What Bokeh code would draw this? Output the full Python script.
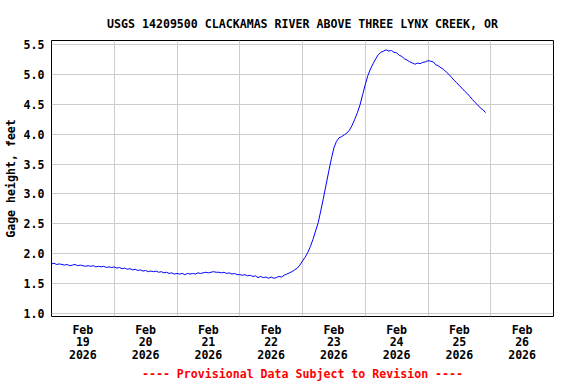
from bokeh.plotting import figure
from bokeh.models import Range1d, FixedTicker
from bokeh.embed import file_html
from bokeh.resources import INLINE

# hours since Feb 19 2026 00:00
hours = list(range(0, 167))
gage_height = [
    1.83, 1.84, 1.82, 1.83, 1.82, 1.81, 1.82, 1.80, 1.81, 1.82, 1.80, 1.81,
    1.80, 1.79, 1.80, 1.79, 1.80, 1.78, 1.79, 1.78, 1.79, 1.77, 1.78, 1.77,
    1.78, 1.76, 1.77, 1.75, 1.76, 1.74, 1.75, 1.73, 1.74, 1.72, 1.73, 1.71,
    1.72, 1.70, 1.71, 1.70, 1.71, 1.69, 1.70, 1.68, 1.69, 1.67, 1.68, 1.66,
    1.67, 1.66, 1.67, 1.65, 1.67, 1.66, 1.67, 1.66, 1.68, 1.67, 1.68, 1.69,
    1.68, 1.69, 1.70, 1.69, 1.69, 1.68, 1.69, 1.67, 1.68, 1.66, 1.67, 1.65,
    1.65, 1.64, 1.65, 1.63, 1.64, 1.62, 1.63, 1.60, 1.62, 1.60, 1.61, 1.59,
    1.61, 1.59, 1.60, 1.62, 1.61, 1.64, 1.66, 1.68, 1.70, 1.73, 1.76, 1.81,
    1.88, 1.94, 2.02, 2.12, 2.24, 2.38, 2.52, 2.72, 2.93, 3.15, 3.37, 3.58,
    3.77, 3.88, 3.94, 3.96, 3.99, 4.02, 4.07, 4.15, 4.25, 4.36, 4.49, 4.66,
    4.83, 4.98, 5.09, 5.18, 5.26, 5.33, 5.37, 5.39, 5.41, 5.39, 5.40, 5.37,
    5.36, 5.32, 5.30, 5.26, 5.24, 5.21, 5.19, 5.17, 5.19, 5.18, 5.20, 5.21,
    5.23, 5.22, 5.21, 5.16, 5.14, 5.11, 5.08, 5.04, 5.00, 4.95, 4.90, 4.86,
    4.81, 4.77, 4.72, 4.68, 4.63, 4.58, 4.53, 4.49, 4.44, 4.41, 4.36,
]

label_hours = [12, 36, 60, 84, 108, 132, 156, 180]
day_labels = ["Feb\n19\n2026", "Feb\n20\n2026", "Feb\n21\n2026", "Feb\n22\n2026",
              "Feb\n23\n2026", "Feb\n24\n2026", "Feb\n25\n2026", "Feb\n26\n2026"]
grid_hours = [24, 48, 72, 96, 120, 144, 168]
y_ticks = [1.0, 1.5, 2.0, 2.5, 3.0, 3.5, 4.0, 4.5, 5.0, 5.5]
y_labels = ["1.0", "1.5", "2.0", "2.5", "3.0", "3.5", "4.0", "4.5", "5.0", "5.5"]

TITLE = "USGS 14209500 CLACKAMAS RIVER ABOVE THREE LYNX CREEK, OR"
FOOTER = "---- Provisional Data Subject to Revision ----"
Y_LABEL = "Gage height, feet"

FONT = "DejaVu Sans Mono"
FS = "11.6px"

p = figure(width=576, height=384, output_backend="svg", toolbar_location=None,
           x_range=Range1d(0, 192), y_range=Range1d(0.95, 5.567),
           min_border_left=51, min_border_right=23, min_border_top=40,
           min_border_bottom=68)

p.background_fill_color = "white"
p.border_fill_color = "white"
p.outline_line_color = "black"
p.outline_line_width = 1

p.title.text = TITLE
p.title.align = "center"
p.title.text_font = FONT
p.title.text_font_size = FS
p.title.text_font_style = "bold"
p.title.text_color = "black"
p.title.standoff = 19

p.line(hours, gage_height, color="#0000FF", line_width=1)

xa = p.xaxis[0]
xa.ticker = FixedTicker(ticks=label_hours)
xa.major_label_overrides = {h: lab for h, lab in zip(label_hours, day_labels)}
xa.axis_line_color = None
xa.major_tick_line_color = None
xa.minor_tick_line_color = None
xa.major_tick_out = 0
xa.major_tick_in = 0
xa.major_label_standoff = 6
xa.major_label_text_font = FONT
xa.major_label_text_font_size = FS
xa.major_label_text_font_style = "bold"
xa.major_label_text_color = "black"
xa.major_label_text_line_height = 0.9
xa.axis_label = FOOTER
xa.axis_label_text_font = FONT
xa.axis_label_text_font_size = FS
xa.axis_label_text_font_style = "bold"
xa.axis_label_text_color = "#FF0000"
xa.axis_label_standoff = 2

ya = p.yaxis[0]
ya.ticker = FixedTicker(ticks=y_ticks)
ya.major_label_overrides = {t: lab for t, lab in zip(y_ticks, y_labels)}
ya.axis_line_color = None
ya.major_tick_line_color = None
ya.minor_tick_line_color = None
ya.major_tick_out = 0
ya.major_tick_in = 0
ya.major_label_standoff = 7
ya.major_label_text_font = FONT
ya.major_label_text_font_size = FS
ya.major_label_text_font_style = "bold"
ya.major_label_text_color = "black"
ya.axis_label = Y_LABEL
ya.axis_label_text_font = FONT
ya.axis_label_text_font_size = FS
ya.axis_label_text_font_style = "bold"
ya.axis_label_text_color = "black"
ya.axis_label_standoff = 3

p.xgrid.ticker = FixedTicker(ticks=grid_hours)
p.xgrid.grid_line_color = "#CCCCCC"
p.xgrid.grid_line_width = 1
p.ygrid.ticker = FixedTicker(ticks=y_ticks)
p.ygrid.grid_line_color = "#CCCCCC"
p.ygrid.grid_line_width = 1

open("out.html", "w").write(file_html(p, INLINE))
